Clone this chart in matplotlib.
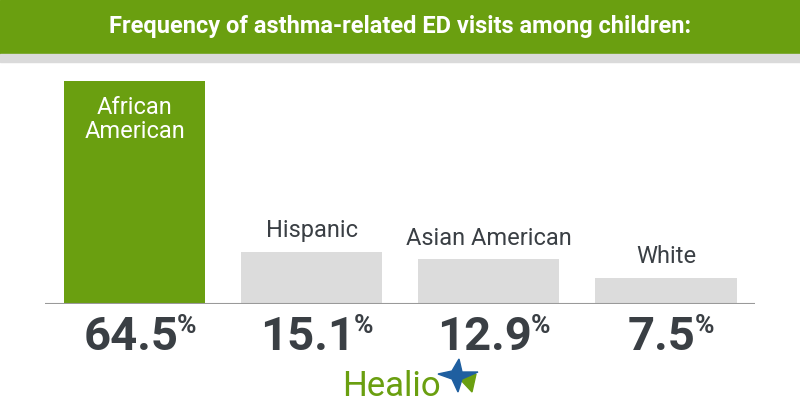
import matplotlib
matplotlib.use("Agg")
import matplotlib.pyplot as plt
from matplotlib.patches import Rectangle, Polygon

plt.rcParams["font.family"] = ["Roboto", "DejaVu Sans"]

GROUPS = ["African\nAmerican", "Hispanic", "Asian American", "White"]
VALUES = [64.5, 15.1, 12.9, 7.5]
LABELS = ["64.5", "15.1", "12.9", "7.5"]
TITLE = "Frequency of asthma-related ED visits among children:"

GREEN = "#6a9f10"
GRAY = "#dcdcdc"
DARK = "#3a3f44"

fig = plt.figure(figsize=(8, 4.2), dpi=100)
W, H = 800, 420

# header band + grey strip
fig.patches.append(Rectangle((0, 1 - 54 / H), 1, 54 / H, transform=fig.transFigure,
                             color=GREEN, zorder=0))
fig.patches.append(Rectangle((0, 1 - 62 / H), 1, 8 / H, transform=fig.transFigure,
                             color="#dadada", zorder=0))
fig.text(0.5, 1 - 27 / H, TITLE, color="white", fontsize=17, fontweight="bold",
         ha="center", va="center")

# axes: baseline at y=304px, left 45px, right 755px, top 62px
ax = fig.add_axes([45 / W, 1 - 304 / H, 710 / W, 242 / H])
ax.set_xlim(-0.508, 3.503)
ax.set_ylim(0, 70)
ax.axis("off")

colors = [GREEN, GRAY, GRAY, GRAY]
x = list(range(len(VALUES)))
ax.bar(x, VALUES, width=0.797, color=colors, zorder=2)
ax.axhline(0, color="#9a9a9a", lw=1.5, zorder=3)

for i, (g, v, lab) in enumerate(zip(GROUPS, VALUES, LABELS)):
    if i == 0:
        ax.annotate(g, (i, v), xytext=(0, -11), textcoords="offset points",
                    ha="center", va="top", color="white", fontsize=17,
                    linespacing=1.05)
    else:
        ax.annotate(g, (i, v), xytext=(0, 7), textcoords="offset points",
                    ha="center", va="bottom", color=DARK, fontsize=17)
    t = ax.annotate(lab, (i, 0), xytext=(-3, -8), textcoords="offset points",
                    ha="center", va="top", color=DARK, fontsize=34,
                    fontweight="bold")
    ax.annotate("%", xy=(1, 1), xycoords=t, xytext=(-1, 1),
                textcoords="offset points", ha="left", va="top",
                color=DARK, fontsize=19, fontweight="bold")

# Healio logo
fig.text(342 / W, 1 - 386 / H, "Healio", color="#6a9f10", fontsize=25,
         ha="left", va="center")
cx, cy = 456, 376
pts = [(cx + 3, cy - 17), (cx + 6, cy - 4), (cx + 22, cy - 4), (cx + 6, cy + 3),
       (cx + 2, cy + 16), (cx - 4, cy + 3), (cx - 18, cy - 2), (cx - 4, cy - 5)]
fig.patches.append(Polygon([(px / W, 1 - py / H) for px, py in pts],
                           closed=True, transform=fig.transFigure,
                           color="#1f5fa0", zorder=5))
tri = [(cx + 2, cy + 1), (cx + 20, cy - 2), (cx + 16, cy + 16)]
fig.patches.append(Polygon([(px / W, 1 - py / H) for px, py in tri],
                           closed=True, transform=fig.transFigure,
                           color="#6a9f10", zorder=4))

fig.savefig("out.png", dpi=100)
